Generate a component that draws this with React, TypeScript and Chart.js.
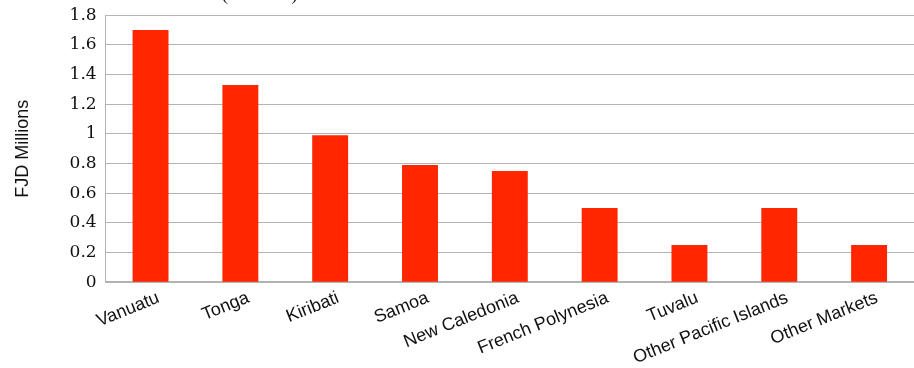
import React, { useEffect, useRef } from "react";
import { Chart, registerables } from "chart.js";

Chart.register(...registerables);

const categories = [
  "Vanuatu",
  "Tonga",
  "Kiribati",
  "Samoa",
  "New Caledonia",
  "French Polynesia",
  "Tuvalu",
  "Other Pacific Islands",
  "Other Markets",
];
const values = [1.7, 1.33, 0.99, 0.79, 0.75, 0.5, 0.25, 0.5, 0.25];
const yAxisTitle = "FJD Millions";
const partialTitle = "(2012-16)";
const yMin = 0;
const yMax = 1.8;
const yStep = 0.2;

const clippedTitlePlugin = {
  id: "clippedTitle",
  afterDraw(chart: any) {
    const { ctx, chartArea } = chart;
    ctx.save();
    ctx.font = "19px 'Liberation Serif'";
    ctx.fillStyle = "#222";
    ctx.textAlign = "center";
    ctx.textBaseline = "alphabetic";
    ctx.fillText(partialTitle, chartArea.left + 154, chartArea.top - 15);
    ctx.restore();
  },
};

export default function App() {
  const ref = useRef<HTMLCanvasElement | null>(null);
  useEffect(() => {
    if (!ref.current) return;
    const chart = new Chart(ref.current, {
      type: "bar",
      data: {
        labels: categories,
        datasets: [
          {
            data: values,
            backgroundColor: "#ff2600",
            borderWidth: 0,
            barPercentage: 0.8,
            categoryPercentage: 0.5,
          },
        ],
      },
      options: {
        animation: false,
        responsive: true,
        maintainAspectRatio: false,
        layout: { padding: { top: 0, right: 0, left: 12, bottom: 0 } },
        plugins: {
          legend: { display: false },
          tooltip: { enabled: false },
          title: { display: false },
        },
        scales: {
          x: {
            grid: { display: false, drawTicks: false },
            border: { display: true, color: "#b3b3b3", width: 2 },
            ticks: {
              color: "#111",
              font: { family: "'Liberation Sans', Arial, sans-serif", size: 18 },
              maxRotation: 22,
              minRotation: 22,
              padding: 5,
              labelOffset: 8,
              autoSkip: false,
            },
          },
          y: {
            min: yMin,
            max: yMax,
            grid: { display: true, color: "#b3b3b3", lineWidth: 1, drawTicks: false },
            border: { display: true, color: "#b3b3b3", width: 1 },
            ticks: {
              stepSize: yStep,
              color: "#111",
              padding: 9,
              font: { family: "'DejaVu Serif', serif", size: 17 },
              callback: (v: any) => String(Number(Number(v).toFixed(1))),
            },
            title: {
              display: true,
              text: yAxisTitle,
              color: "#111",
              font: { family: "'Liberation Sans', Arial, sans-serif", size: 18 },
              padding: { top: 0, bottom: 27 },
            },
          },
        },
      },
      plugins: [clippedTitlePlugin],
    });
    return () => chart.destroy();
  }, []);
  return (
    <div style={{ position: "fixed", left: 0, top: -4, width: 914, height: 378 }}>
      <canvas ref={ref} />
    </div>
  );
}
